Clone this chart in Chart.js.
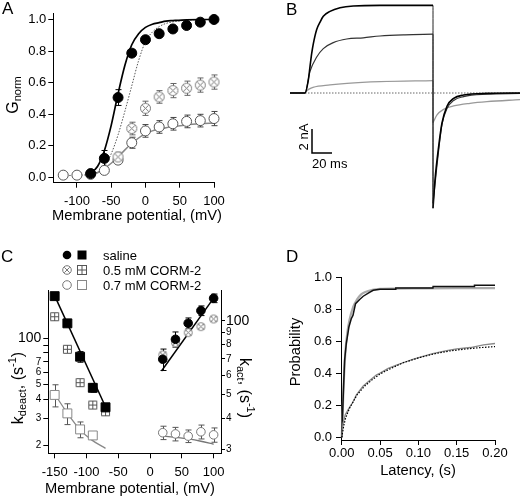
<!DOCTYPE html>
<html>
<head>
<meta charset="utf-8">
<script src="https://cdn.jsdelivr.net/npm/chart.js@4/dist/chart.umd.min.js"></script>
<style>
  body { margin: 0; background: #fff; }
  #fig { position: relative; width: 520px; height: 496px; overflow: hidden;
         font-family: 'Liberation Sans', Arial, Helvetica, sans-serif; color: #000; }
  canvas { position: absolute; }
  .t { position: absolute; white-space: nowrap; line-height: 1; }
  .panel { font-size: 17px; }
  .ttl { font-size: 14.7px; }
  .rl { transform: translate(-50%, -50%) rotate(-90deg); }
  .rr { transform: translate(-50%, -50%) rotate(90deg); }
  .big { font-size: 16px; }
  .sm { font-size: 11px; }
  .sub { vertical-align: -3px; }
  .sup { vertical-align: 7px; }
  .leg { font-size: 13px; }
  .sym { position: absolute; }
</style>
</head>
<body>
<div id="fig">
  <canvas id="cA" width="260" height="240" style="left:0;top:0"></canvas>
  <canvas id="cB" width="230" height="225" style="left:290px;top:0"></canvas>
  <canvas id="cC" width="260" height="256" style="left:0;top:240px"></canvas>
  <canvas id="cD" width="260" height="256" style="left:260px;top:240px"></canvas>

  <div class="t panel" style="left:2px;top:0">A</div>
  <div class="t panel" style="left:286px;top:1px">B</div>
  <div class="t panel" style="left:1px;top:248px">C</div>
  <div class="t panel" style="left:286px;top:248px">D</div>

  <!-- panel A titles -->
  <div class="t ttl" style="left:137px;top:215px;transform:translate(-50%,-50%)">Membrane potential, (mV)</div>
  <div class="t rl" style="left:14px;top:95px"><span class="big">G</span><span class="sm sub">norm</span></div>

  <!-- panel B scale bar labels -->
  <div class="t leg rl" style="left:303px;top:137px">2 nA</div>
  <div class="t leg" style="left:312px;top:157px">20 ms</div>

  <!-- panel C titles and legend -->
  <div class="t ttl" style="left:130px;top:488px;transform:translate(-50%,-50%)">Membrane potential, (mV)</div>
  <div class="t rl" style="left:17px;top:388px"><span class="big">k</span><span class="sm sub">deact</span><span class="big">, (s</span><span class="sm sup">-1</span><span class="big">)</span></div>
  <div class="t rr" style="left:245px;top:388px"><span class="big">k</span><span class="sm sub">act</span><span class="big">, (s</span><span class="sm sup">-1</span><span class="big">)</span></div>

  <svg class="sym" style="left:61px;top:249px" width="12" height="12"><circle cx="6" cy="6" r="4.3" fill="#000"/></svg>
  <svg class="sym" style="left:76px;top:249px" width="12" height="12"><rect x="1.5" y="1.5" width="9" height="9" fill="#000"/></svg>
  <svg class="sym" style="left:61px;top:264px" width="12" height="12"><circle cx="6" cy="6" r="4.3" fill="#fff" stroke="#777"/><path d="M3.3 3.3L8.7 8.7M8.7 3.3L3.3 8.7" stroke="#777"/></svg>
  <svg class="sym" style="left:76px;top:264px" width="12" height="12"><rect x="1.5" y="1.5" width="9" height="9" fill="#fff" stroke="#555"/><path d="M1.5 6H10.5M6 1.5V10.5" stroke="#555"/></svg>
  <svg class="sym" style="left:61px;top:279px" width="12" height="12"><circle cx="6" cy="6" r="4.3" fill="#fff" stroke="#777"/></svg>
  <svg class="sym" style="left:76px;top:279px" width="12" height="12"><rect x="1.5" y="1.5" width="9" height="9" fill="#fff" stroke="#888"/></svg>
  <div class="t leg" style="left:103px;top:248.5px">saline</div>
  <div class="t leg" style="left:103px;top:263.5px">0.5 mM CORM-2</div>
  <div class="t leg" style="left:103px;top:278.5px">0.7 mM CORM-2</div>

  <!-- panel D titles -->
  <div class="t ttl rl" style="left:295px;top:352px">Probability</div>
  <div class="t ttl" style="left:418px;top:470px;transform:translate(-50%,-50%)">Latency, (s)</div>
</div>

<script>
  // === Panel A: normalised conductance vs membrane potential ===
  const vA = [-120, -100, -80, -60, -40, -20, 0, 20, 40, 60, 80, 100];
  const salineV_A = [-80, -60, -40, -20, 0, 20, 40, 60, 80, 100];
  const salineA = [0.025, 0.121, 0.506, 0.787, 0.872, 0.91, 0.94, 0.962, 0.983, 1.0];
  const salineErrA = [0.005, 0.05, 0.05, 0.02, 0.015, 0.01, 0.01, 0.01, 0.01, 0.005];
  const corm05V_A = [-40, -20, 0, 20, 40, 60, 80, 100];
  const corm05A = [0.13, 0.31, 0.438, 0.51, 0.55, 0.565, 0.585, 0.604];
  const corm05ErrA = [0.03, 0.04, 0.045, 0.04, 0.045, 0.045, 0.045, 0.045];
  const corm07A = [0.015, 0.015, 0.02, 0.045, 0.11, 0.22, 0.295, 0.32, 0.34, 0.355, 0.36, 0.373];
  const corm07ErrA = [0, 0, 0, 0.01, 0.02, 0.035, 0.04, 0.04, 0.04, 0.04, 0.04, 0.045];
  const salineFitV_A = [-85, -80, -70, -60, -50, -40, -30, -20, -10, 0, 10, 20, 30, 40, 60, 80, 100];
  const salineFitA = [0.018, 0.03, 0.07, 0.17, 0.33, 0.53, 0.71, 0.84, 0.91, 0.95, 0.97, 0.98, 0.99, 0.993, 0.998, 1.0, 1.0];
  const corm05FitV_A = [-120, -110, -100, -90, -80, -70, -60, -50, -40, -30, -20, -10, 0, 10, 20, 30, 40, 60, 80, 100];
  const corm05FitA = [0.012, 0.013, 0.014, 0.016, 0.02, 0.035, 0.07, 0.15, 0.27, 0.42, 0.58, 0.74, 0.86, 0.92, 0.955, 0.975, 0.985, 0.995, 0.999, 1.0];
  const corm07FitV_A = [-80, -70, -60, -50, -40, -30, -20, -10, 0, 10, 20, 30, 40, 60, 80, 100];
  const corm07FitA = [0.012, 0.03, 0.057, 0.09, 0.13, 0.175, 0.215, 0.25, 0.278, 0.295, 0.305, 0.315, 0.322, 0.333, 0.34, 0.345];
  const xTicksA = [-100, -50, 0, 50, 100];
  const yTicksA = [0, 0.2, 0.4, 0.6, 0.8, 1.0];

  // === Panel B: current traces (ms, nA) ===
  const blackOnT = [0, 15, 18.3, 20, 21.7, 23.3, 26.7, 30, 33.3, 40, 50, 63.3, 90, 143];
  const blackOnI = [0, 0, 1.08, 2.2, 3.3, 4.1, 5.3, 5.9, 6.4, 6.8, 7.1, 7.25, 7.3, 7.3];
  const blackTailT = [143, 145, 148.6, 152, 157, 163.6, 173.6, 197, 230];
  const blackTailI = [-9.6, -7.25, -4.5, -2.5, -1.1, -0.45, -0.17, -0.03, 0];
  const midOnT = [0, 15, 20, 26.7, 33.3, 43.3, 56.7, 73.3, 90, 115, 143];
  const midOnI = [0, 0, 1.8, 3.0, 3.7, 4.2, 4.5, 4.6, 4.75, 4.85, 4.9];
  const midTailT = [143, 146, 149, 152, 157, 164, 173.6, 197, 230];
  const midTailI = [-9.2, -6.8, -4.5, -2.6, -1.3, -0.6, -0.3, -0.1, -0.03];
  const lightOnT = [0, 15, 17, 19, 23, 40, 57, 90, 143];
  const lightOnI = [0, 0, 0.2, 0.32, 0.47, 0.67, 0.8, 0.94, 1.03];
  const lightTailT = [143, 147, 153.6, 163.6, 180, 197, 230];
  const lightTailI = [-2.47, -1.83, -1.36, -1.08, -0.86, -0.72, -0.55];
  const zeroT = [0, 230];
  const zeroI = [0, 0];
  const barT = [22, 22, 42];   // 20 ms
  const barI = [-3, -5, -5];   // 2 nA

  // === Panel C: rate constants (log axes) ===
  const vDeact = [-150, -130, -110, -90, -70];
  const deactSaline = [187, 124.5, 75.6, 47.5, 35.5];
  const deactSalineErr = [8, 5, 6, 3, 2];
  const deact05 = [137.5, 84.5, 51.3, 36.7, 33.2];
  const deact05Err = [0, 0, 0, 0, 0];
  const vDeact07 = [-150, -130, -110, -90];
  const deact07 = [42.7, 32.4, 25.5, 23.3];
  const deact07Err = [7, 5, 3, 0];
  const deactFitSalV = [-151, -69];
  const deactFitSal = [192, 35];
  const deactFit07V = [-152, -130, -110, -92, -70];
  const deactFit07 = [44.5, 32.5, 25.3, 21.8, 19.2];
  const vAct = [20, 40, 60, 80, 100];
  const actSaline = [69.8, 84.2, 97.9, 110.2, 123.8];
  const actSalineErr = [7, 6, 5, 5, 5];
  const act05 = [72.7, 81.5, 89.6, 94.8, 101.9];
  const act05Err = [2, 2, 2, 2, 2];
  const act07 = [35.0, 34.6, 33.9, 35.3, 34.3];
  const act07Err = [2.2, 2.2, 2, 2.3, 2.3];
  const actFitSalV = [18, 100];
  const actFitSal = [62.5, 124];
  const actFit07V = [18, 40, 60, 80, 100];
  const actFit07 = [34.0, 33.5, 33.0, 32.3, 31.4];
  const xTicksC = [-150, -100, -50, 0, 50, 100];
  const yTicksDeact = [20, 30, 40, 50, 60, 70, 80, 90, 100];
  const yLabelsDeact = ['2', '3', '4', '5', '6', '7', '', '', '100'];
  const yTicksAct = [30, 40, 50, 60, 70, 80, 90, 100];
  const yLabelsAct = ['3', '4', '5', '6', '7', '8', '9', '100'];

  // === Panel D: cumulative latency distributions ===
  const fastT = [0, 0.002, 0.0037, 0.0059, 0.0094, 0.0124, 0.0146, 0.018, 0.0233, 0.028, 0.0346, 0.041, 0.05, 0.0703, 0.0705, 0.119, 0.1192, 0.173, 0.1732, 0.2];
  const fastP = [0, 0.27, 0.48, 0.585, 0.69, 0.74, 0.76, 0.834, 0.86, 0.88, 0.9, 0.917, 0.923, 0.923, 0.932, 0.932, 0.94, 0.94, 0.948, 0.948];
  const fastFitT = [0, 0.0025, 0.005, 0.0075, 0.01, 0.015, 0.02, 0.025, 0.03, 0.04, 0.05, 0.07, 0.1, 0.15, 0.2];
  const fastFitP = [0, 0.33, 0.55, 0.66, 0.73, 0.815, 0.86, 0.89, 0.905, 0.92, 0.926, 0.928, 0.929, 0.93, 0.93];
  const slowT = [0, 0.0016, 0.0046, 0.0085, 0.0146, 0.0189, 0.023, 0.028, 0.036, 0.045, 0.05, 0.0606, 0.0714, 0.08, 0.0937, 0.107, 0.12, 0.137, 0.15, 0.168, 0.185, 0.2];
  const slowP = [0, 0.087, 0.14, 0.174, 0.22, 0.263, 0.29, 0.32, 0.353, 0.388, 0.4, 0.43, 0.45, 0.465, 0.487, 0.506, 0.523, 0.54, 0.552, 0.56, 0.577, 0.585];
  const slowFitT = [0, 0.0025, 0.005, 0.01, 0.02, 0.03, 0.04, 0.05, 0.06, 0.08, 0.1, 0.12, 0.14, 0.16, 0.18, 0.2];
  const slowFitP = [0, 0.07, 0.12, 0.18, 0.265, 0.32, 0.36, 0.395, 0.42, 0.465, 0.495, 0.52, 0.538, 0.55, 0.559, 0.566];
  const xTicksD = [0, 0.05, 0.1, 0.15, 0.2];
  const yTicksD = [0, 0.2, 0.4, 0.6, 0.8, 1.0];

  // === Common setup ===
  Chart.defaults.font.family = "'Liberation Sans', Arial, Helvetica, sans-serif";
  Chart.defaults.font.size = 13;
  Chart.defaults.color = '#000';
  Chart.defaults.animation = false;
  Chart.defaults.events = [];
  Chart.defaults.plugins.legend.display = false;
  Chart.defaults.plugins.tooltip.enabled = false;

  const pts = (xs, ys) => xs.map((x, i) => ({ x: x, y: ys[i] }));

  // crossed symbols (circle with x, square with +) used as point styles
  function crossMark(kind, r, color) {
    const size = 2 * r + 3;
    const c = document.createElement('canvas');
    c.width = size; c.height = size;
    const g = c.getContext('2d');
    const m = size / 2;
    g.strokeStyle = color; g.fillStyle = '#fff'; g.lineWidth = 1;
    g.beginPath();
    if (kind === 'circle') g.arc(m, m, r, 0, 2 * Math.PI);
    else g.rect(m - r, m - r, 2 * r, 2 * r);
    g.fill(); g.stroke();
    g.beginPath();
    if (kind === 'circle') {
      const d = r * 0.62;
      g.moveTo(m - d, m - d); g.lineTo(m + d, m + d);
      g.moveTo(m + d, m - d); g.lineTo(m - d, m + d);
    } else {
      g.moveTo(m - r, m); g.lineTo(m + r, m);
      g.moveTo(m, m - r); g.lineTo(m, m + r);
    }
    g.stroke();
    return c;
  }

  // vertical error bars with caps, drawn under the markers
  const errorBars = {
    id: 'errorBars',
    beforeDatasetsDraw(chart) {
      const ctx = chart.ctx;
      chart.data.datasets.forEach(ds => {
        if (!ds.errors) return;
        const xs = chart.scales[ds.xAxisID || 'x'];
        const ys = chart.scales[ds.yAxisID || 'y'];
        ctx.save();
        ctx.strokeStyle = ds.errColor || '#000';
        ctx.lineWidth = 1;
        ds.data.forEach((p, j) => {
          const e = ds.errors[j];
          if (!e) return;
          const px = Math.round(xs.getPixelForValue(p.x)) + 0.5;
          const top = ys.getPixelForValue(p.y + e);
          const bot = ys.getPixelForValue(p.y - e);
          ctx.beginPath();
          ctx.moveTo(px, top); ctx.lineTo(px, bot);
          ctx.moveTo(px - 3, top); ctx.lineTo(px + 3, top);
          ctx.moveTo(px - 3, bot); ctx.lineTo(px + 3, bot);
          ctx.stroke();
        });
        ctx.restore();
      });
    }
  };

  function marker(xs, ys, errs, opts) {
    return Object.assign({
      data: pts(xs, ys), errors: errs, showLine: false, clip: false,
      pointRadius: 5, borderWidth: 1, pointStyle: 'circle'
    }, opts);
  }
  function curve(xs, ys, opts) {
    return Object.assign({
      data: pts(xs, ys), showLine: true, pointRadius: 0, clip: false,
      borderWidth: 1.5, cubicInterpolationMode: 'monotone', fill: false
    }, opts);
  }

  function axis(pos, type, min, max, tickVals, size, fmt, extra) {
    const horiz = pos === 'top' || pos === 'bottom';
    const cfg = {
      type: type, position: pos, min: min, max: max,
      afterBuildTicks: s => { s.ticks = tickVals.map(v => ({ value: v })); },
      afterFit: s => { if (horiz) s.height = size; else s.width = size; },
      grid: { drawOnChartArea: false, drawTicks: true, tickLength: 5, tickColor: '#000', tickWidth: 1 },
      border: { display: true, color: '#000', width: 1 },
      ticks: { color: '#000', font: { size: 13 }, padding: horiz ? 6 : 2, autoSkip: false,
               maxRotation: 0, minRotation: 0, callback: fmt }
    };
    if (extra && extra.ticks) Object.assign(cfg.ticks, extra.ticks);
    if (extra && extra.grid) Object.assign(cfg.grid, extra.grid);
    return cfg;
  }

  const crossCircleA = crossMark('circle', 5, '#777');
  const crossCircleC = crossMark('circle', 4, '#777');
  const crossSquareC = crossMark('square', 4, '#555');

  // === Panel A chart ===
  new Chart(document.getElementById('cA'), {
    type: 'scatter',
    data: { datasets: [
      marker(salineV_A, salineA, salineErrA, { backgroundColor: '#000', borderColor: '#000', errColor: '#000' }),
      marker(corm05V_A, corm05A, corm05ErrA, { pointStyle: crossCircleA, errColor: '#666' }),
      marker(vA, corm07A, corm07ErrA, { backgroundColor: '#fff', borderColor: '#555', errColor: '#444' }),
      curve(salineFitV_A, salineFitA, { borderColor: '#000', borderWidth: 1.7 }),
      curve(corm05FitV_A, corm05FitA, { borderColor: '#555', borderWidth: 1, borderDash: [1.5, 1.5] }),
      curve(corm07FitV_A, corm07FitA, { borderColor: '#888', borderWidth: 1.5 })
    ]},
    options: {
      responsive: false,
      layout: { padding: { top: 13, right: 46, bottom: 0, left: 0 } },
      scales: {
        x: axis('bottom', 'linear', -134.5, 100, xTicksA, 57.3, v => String(v)),
        y: axis('left', 'linear', -0.0328, 1.041, yTicksA, 53.3, v => v.toFixed(1))
      }
    },
    plugins: [errorBars]
  });

  // === Panel B chart (traces, no axes) ===
  function trace(xs, ys, color, width, dash) {
    return { data: pts(xs, ys), showLine: true, pointRadius: 0, borderColor: color,
             borderWidth: width, borderDash: dash || [], cubicInterpolationMode: 'monotone', fill: false };
  }
  new Chart(document.getElementById('cB'), {
    type: 'scatter',
    data: { datasets: [
      trace(blackOnT, blackOnI, '#000', 1.6),
      trace([143, 143], [blackOnI[blackOnI.length - 1], blackTailI[0]], '#222', 1),
      trace(blackTailT, blackTailI, '#000', 1.6),
      trace(midOnT, midOnI, '#333', 1.2),
      trace([143, 143], [midOnI[midOnI.length - 1], midTailI[0]], '#333', 1),
      trace(midTailT, midTailI, '#333', 1.2),
      trace(lightOnT, lightOnI, '#999', 1.3),
      trace([143, 143], [lightOnI[lightOnI.length - 1], lightTailI[0]], '#999', 1),
      trace(lightTailT, lightTailI, '#999', 1.3),
      trace(zeroT, zeroI, '#666', 1, [1.5, 1.5]),
      Object.assign(trace(barT, barI, '#000', 1.5), { cubicInterpolationMode: 'default', tension: 0 })
    ]},
    options: {
      responsive: false,
      layout: { padding: 0 },
      scales: {
        x: { type: 'linear', display: false, min: 0, max: 230 },
        y: { type: 'linear', display: false, min: -11, max: 7.75 }
      }
    }
  });

  // === Panel C chart (dual log axes) ===
  const logAxis = (pos, min, max, vals, labels, size, pad, tl) => {
    const a = axis(pos, 'logarithmic', min, max, vals, size,
      v => { const i = vals.indexOf(v); return i >= 0 ? labels[i] : ''; });
    a.ticks.font = c => ({ size: c.tick && c.tick.value === 100 ? 14 : 10 });
    a.ticks.padding = pad;
    a.grid.tickLength = tl;
    return a;
  };
  new Chart(document.getElementById('cC'), {
    type: 'scatter',
    data: { datasets: [
      marker(vDeact, deactSaline, deactSalineErr, { pointStyle: 'rect', pointRadius: 6.3, backgroundColor: '#000', borderColor: '#000', errColor: '#000', yAxisID: 'y' }),
      marker(vDeact, deact05, deact05Err, { pointStyle: crossSquareC, yAxisID: 'y' }),
      marker(vDeact07, deact07, deact07Err, { pointStyle: 'rect', pointRadius: 6.3, backgroundColor: '#fff', borderColor: '#888', errColor: '#555', yAxisID: 'y' }),
      marker(vAct, actSaline, actSalineErr, { pointRadius: 4.3, backgroundColor: '#000', borderColor: '#000', errColor: '#000', yAxisID: 'y2' }),
      marker(vAct, act05, act05Err, { pointStyle: crossCircleC, errColor: '#777', yAxisID: 'y2' }),
      marker(vAct, act07, act07Err, { pointRadius: 4.3, backgroundColor: '#fff', borderColor: '#777', errColor: '#555', yAxisID: 'y2' }),
      curve(deactFitSalV, deactFitSal, { borderColor: '#000', borderWidth: 1.5, yAxisID: 'y' }),
      curve(deactFit07V, deactFit07, { borderColor: '#888', borderWidth: 1.3, yAxisID: 'y' }),
      curve(actFitSalV, actFitSal, { borderColor: '#000', borderWidth: 1.5, yAxisID: 'y2' }),
      curve(actFit07V, actFit07, { borderColor: '#777', borderWidth: 1.3, yAxisID: 'y2' })
    ]},
    options: {
      responsive: false,
      layout: { padding: { top: 50, right: 0, bottom: 0, left: 0 } },
      scales: {
        x: axis('bottom', 'linear', -160, 111.6, xTicksC, 42.7, v => String(v)),
        y: logAxis('left', 17.84, 205, yTicksDeact, yLabelsDeact, 48.3, 2, 5),
        y2: logAxis('right', 28.84, 133.8, yTicksAct, yLabelsAct, 39, 1, 4)
      }
    },
    plugins: [errorBars]
  });

  // === Panel D chart ===
  new Chart(document.getElementById('cD'), {
    type: 'scatter',
    data: { datasets: [
      curve(slowFitT, slowFitP, { borderColor: '#000', borderWidth: 1.2, borderDash: [1.5, 1.5], cubicInterpolationMode: 'default', tension: 0 }),
      curve(slowT, slowP, { borderColor: '#888', borderWidth: 1.3, cubicInterpolationMode: 'default', tension: 0 }),
      curve(fastT, fastP, { borderColor: '#111', borderWidth: 1.5, cubicInterpolationMode: 'default', tension: 0 }),
      curve(fastFitT, fastFitP, { borderColor: '#aaa', borderWidth: 2.2 })
    ]},
    options: {
      responsive: false,
      layout: { padding: { top: 37, right: 25, bottom: 0, left: 0 } },
      scales: {
        x: axis('bottom', 'linear', -0.001, 0.2, xTicksD, 56, v => v.toFixed(2), { ticks: { padding: 1 } }),
        y: axis('left', 'linear', -0.017, 1.0, yTicksD, 81, v => v.toFixed(1), { ticks: { padding: 4 } })
      }
    }
  });
</script>
</body>
</html>
